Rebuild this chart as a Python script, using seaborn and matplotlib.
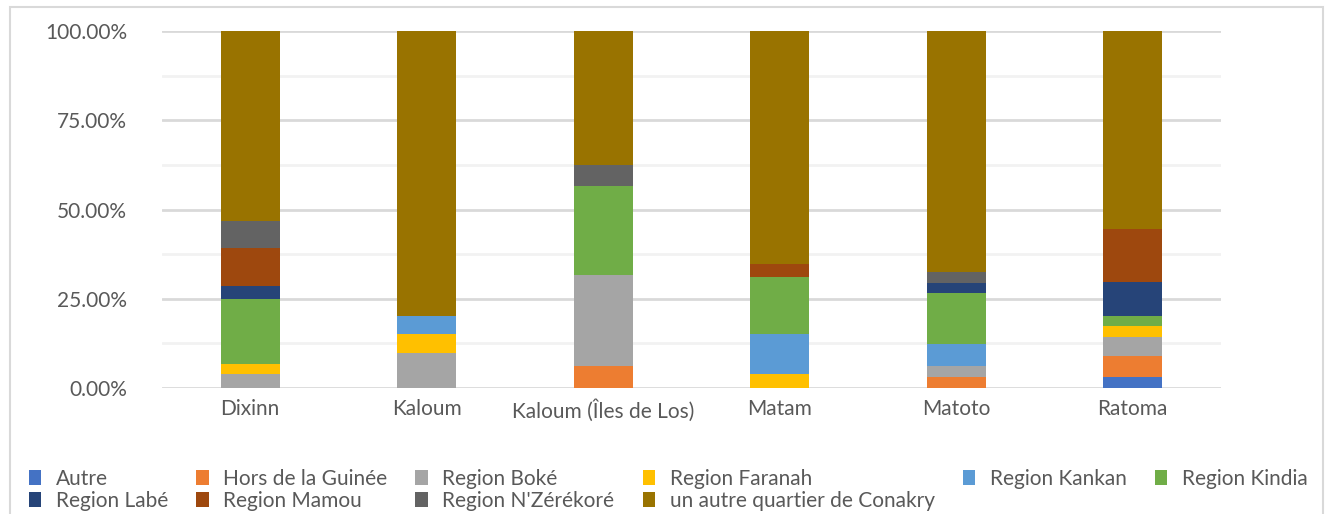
import matplotlib
matplotlib.use("Agg")
import matplotlib.pyplot as plt
from matplotlib.patches import Patch, Rectangle
from matplotlib.ticker import MultipleLocator, FuncFormatter
import seaborn as sns
import pandas as pd
import numpy as np

communes = ["Dixinn", "Kaloum", "Kaloum (Îles de Los)", "Matam", "Matoto", "Ratoma"]

autre = [0, 0, 0, 0, 0, 3.1]
hors_guinee = [0, 0, 6.2, 0, 3.1, 5.9]
boke = [3.85, 9.85, 25.35, 0, 3.1, 5.4]
faranah = [2.9, 5.35, 0, 3.95, 0, 3.1]
kankan = [0, 5.1, 0, 11.15, 6.0, 0]
kindia = [18.3, 0, 25.05, 15.9, 14.3, 2.8]
labe = [3.6, 0, 0, 0, 2.8, 9.3]
mamou = [10.5, 0, 0, 3.6, 0, 14.9]
nzerekore = [7.5, 0, 5.8, 0, 3.1, 0]
autre_quartier = [53.35, 79.7, 37.6, 65.4, 67.6, 55.5]

series_names = ["Autre", "Hors de la Guinée", "Region Boké", "Region Faranah",
                "Region Kankan", "Region Kindia", "Region Labé", "Region Mamou",
                "Region N'Zérékoré", "un autre quartier de Conakry"]
series_values = [autre, hors_guinee, boke, faranah, kankan, kindia, labe, mamou,
                 nzerekore, autre_quartier]
colors = ["#4472C4", "#ED7D31", "#A5A5A5", "#FFC000", "#5B9BD5", "#70AD47",
          "#264478", "#9E480E", "#636363", "#997300"]

sns.set_theme(style="white")
plt.rcParams["font.family"] = ["Lato", "DejaVu Sans"]

fig = plt.figure(figsize=(13.32, 5.14), dpi=100)
ax = fig.add_axes([162 / 1332, 1 - 388 / 514, (1221 - 162) / 1332, (388 - 31) / 514])

bottom = np.zeros(len(communes))
for name, vals, col in zip(series_names, series_values, colors):
    df = pd.DataFrame({"commune": communes, "value": np.array(vals) / 100.0})
    sns.barplot(data=df, x="commune", y="value", order=communes, color=col,
                bottom=bottom, width=0.334, ax=ax, saturation=1, errorbar=None,
                linewidth=0)
    bottom = bottom + np.array(vals) / 100.0

ax.set_ylim(0, 1.0)
ax.set_xlim(-0.5, len(communes) - 0.5)
ax.yaxis.set_major_locator(MultipleLocator(0.25))
ax.yaxis.set_minor_locator(MultipleLocator(0.125))
ax.yaxis.set_major_formatter(FuncFormatter(lambda v, p: f"{v*100:.2f}%"))
ax.grid(False)
ax.set_axisbelow(True)
ax.grid(which="major", axis="y", color="#d9d9d9", linewidth=2.0)
ax.grid(which="minor", axis="y", color="#f2f2f2", linewidth=2.0)
for s in ax.spines.values():
    s.set_visible(False)
ax.set_xlabel("")
ax.set_ylabel("")
ax.tick_params(axis="both", which="both", length=0, labelsize=15, labelcolor="#595959")
ax.tick_params(axis="y", pad=25)
ax.tick_params(axis="x", pad=8)

handles = [Patch(facecolor=c, edgecolor="none") for c in colors]
order = [0, 6, 1, 7, 2, 8, 3, 9, 4, 5]
fig.legend([handles[i] for i in order], [series_names[i] for i in order],
           loc="lower left", ncol=6,
           bbox_to_anchor=(14 / 1332, -0.022), frameon=False, fontsize=15,
           labelcolor="#595959", handlelength=0.6, handleheight=0.7,
           handletextpad=0.7, columnspacing=1.35, labelspacing=0.1,
           borderpad=0.2)

fig.patches.append(Rectangle((10 / 1332, -0.05), (1323 - 10) / 1332, 1.05 - 7 / 514,
                             transform=fig.transFigure, fill=False,
                             edgecolor="#d9d9d9", linewidth=1.5))

fig.savefig("out.png", dpi=100)
